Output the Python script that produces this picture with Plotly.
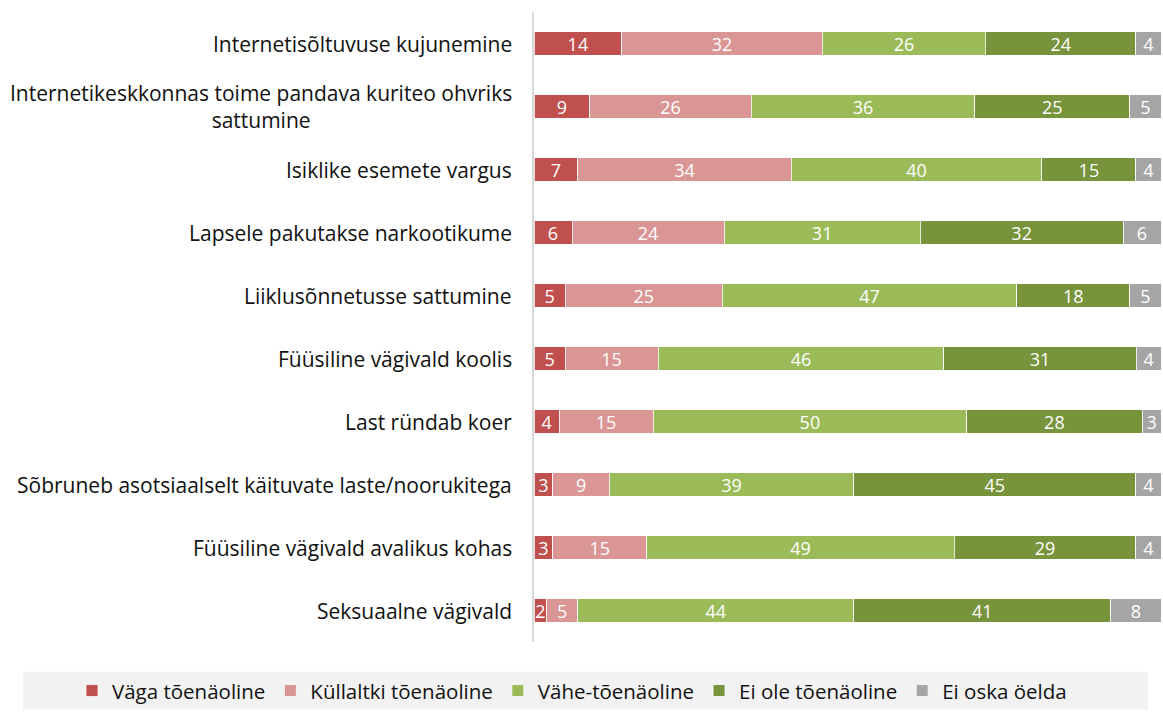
import plotly.graph_objects as go

categories = [
    "Internetisõltuvuse kujunemine",
    "Internetikeskkonnas toime pandava kuriteo ohvriks<br>sattumine",
    "Isiklike esemete vargus",
    "Lapsele pakutakse narkootikume",
    "Liiklusõnnetusse sattumine",
    "Füüsiline vägivald koolis",
    "Last ründab koer",
    "Sõbruneb asotsiaalselt käituvate laste/noorukitega",
    "Füüsiline vägivald avalikus kohas",
    "Seksuaalne vägivald",
]

series_names = ["Väga tõenäoline", "Küllaltki tõenäoline", "Vähe-tõenäoline",
                "Ei ole tõenäoline", "Ei oska öelda"]
vaga = [14, 9, 7, 6, 5, 5, 4, 3, 3, 2]
kullaltki = [32, 26, 34, 24, 25, 15, 15, 9, 15, 5]
vahe = [26, 36, 40, 31, 47, 46, 50, 39, 49, 44]
ei_ole = [24, 25, 15, 32, 18, 31, 28, 45, 29, 41]
ei_oska = [4, 5, 4, 6, 5, 4, 3, 4, 4, 8]
colors = ["#C0504D", "#DA9694", "#9BBB59", "#77933C", "#A5A5A5"]

FONT = "Open Sans"
L, R, T, B = 534, 2, 12, 68
W, H = 1163, 713
PW, PH = W - L - R, H - T - B

fig = go.Figure()
for name, vals, col in zip(series_names, [vaga, kullaltki, vahe, ei_ole, ei_oska], colors):
    fig.add_trace(go.Bar(
        y=categories, x=vals, name=name, orientation="h",
        marker=dict(color=col, line=dict(color="white", width=0.8)),
        text=[str(v) for v in vals], textposition="inside",
        insidetextanchor="middle", textangle=0,
        textfont=dict(color="white", size=18, family=FONT),
        width=0.38,
    ))

for c in categories:
    fig.add_annotation(x=0, xref="paper", y=c, yref="y", text=c, showarrow=False,
                       xanchor="right", align="center", xshift=-20,
                       font=dict(size=21, color="#111111", family=FONT))

fig.add_shape(type="rect", xref="paper", yref="paper",
              x0=(23 - L) / PW, x1=(1148 - L) / PW,
              y0=-(713 - (H - B)) / PH, y1=-(675 - (H - B)) / PH,
              fillcolor="#F2F2F2", line=dict(width=0), layer="below")

fig.update_layout(
    barmode="stack", barnorm="percent",
    width=W, height=H,
    margin=dict(l=L, r=R, t=T, b=B),
    plot_bgcolor="white", paper_bgcolor="white",
    font=dict(family=FONT, size=20, color="#111111"),
    uniformtext=dict(minsize=18, mode="show"),
    xaxis=dict(range=[0, 100], visible=False, fixedrange=True),
    yaxis=dict(showticklabels=False, showline=True,
               linecolor="#D9D9D9", linewidth=2, ticks="", showgrid=False,
               range=[9.5, -0.5], autorange=False, fixedrange=True),
    legend=dict(orientation="h", xref="paper", x=(72 - L) / PW, xanchor="left",
                yref="paper", y=-(694 - (H - B)) / PH, yanchor="middle",
                bgcolor="rgba(0,0,0,0)", font=dict(size=20.5, family=FONT, color="#111111"),
                traceorder="normal", itemwidth=30),
    showlegend=True,
)

fig.write_html("out.html", config={"displayModeBar": False},
               post_script="document.body.style.margin='0';")
